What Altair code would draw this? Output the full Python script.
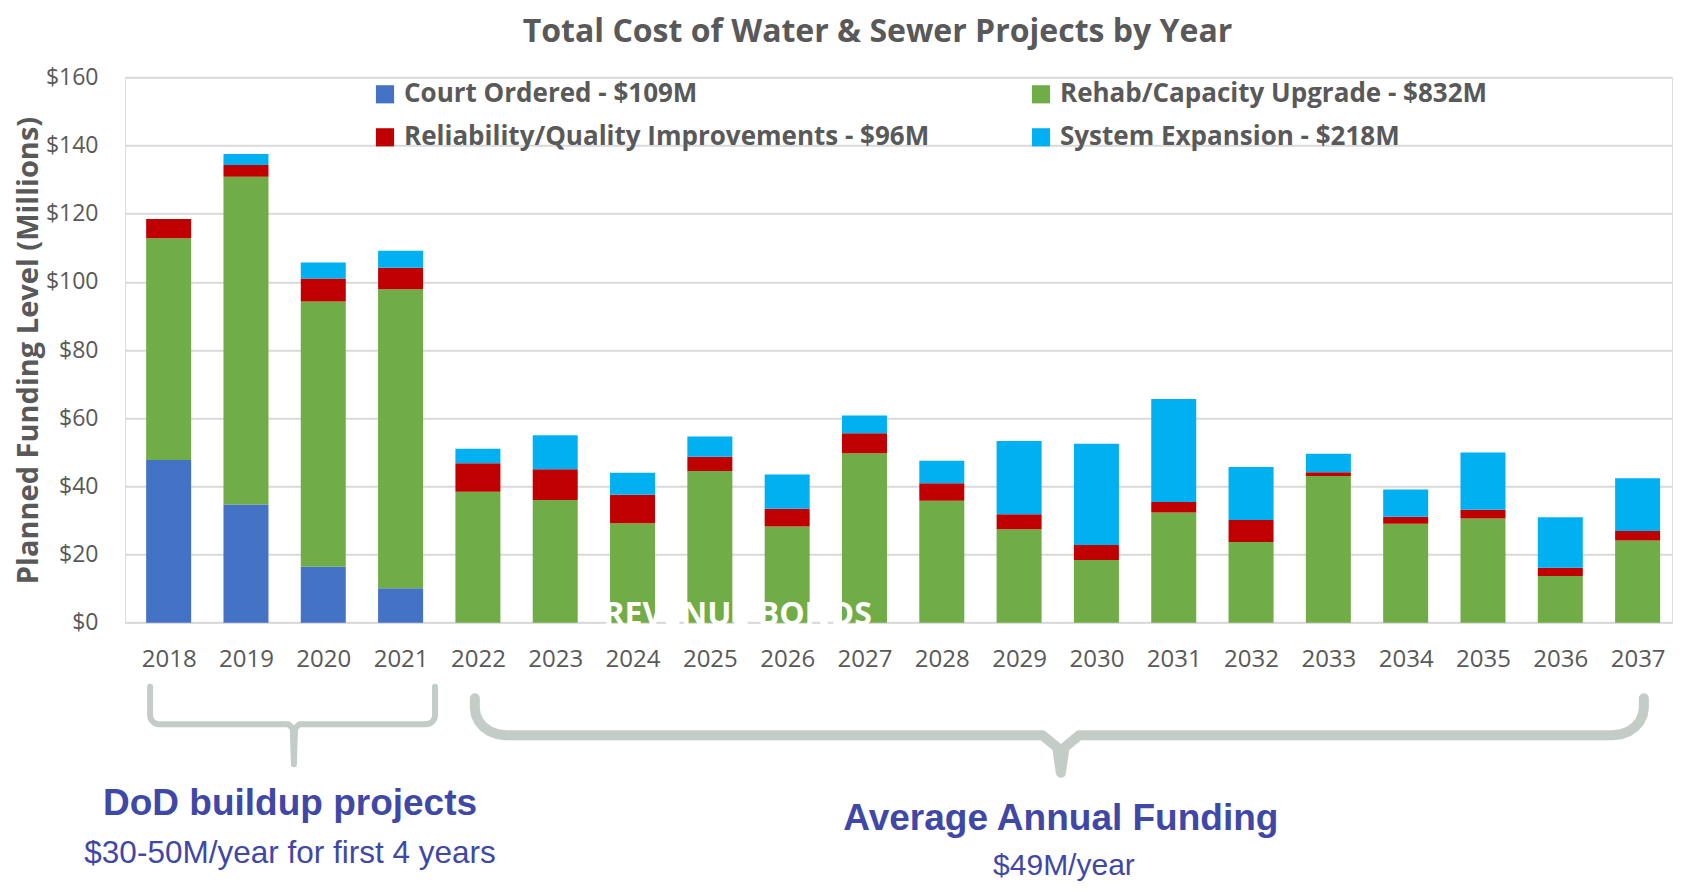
import altair as alt
import pandas as pd
import numpy as np

# ---------------- data ----------------
years = list(range(2018, 2038))
court = [47.7, 34.7, 16.4, 10.1] + [0] * 16
rehab = [65.1, 96.1, 77.8, 87.7, 38.4, 36.0, 29.2, 44.5, 28.2, 49.7,
         35.8, 27.4, 18.4, 32.3, 23.7, 43.0, 29.0, 30.6, 13.7, 24.1]
reliab = [5.6, 3.5, 6.8, 6.3, 8.4, 9.0, 8.3, 4.2, 5.2, 5.9,
          5.1, 4.4, 4.4, 3.1, 6.4, 1.1, 2.1, 2.5, 2.4, 2.8]
system = [0.0, 3.2, 4.7, 5.0, 4.2, 10.0, 6.5, 5.9, 10.1, 5.2,
          6.6, 21.5, 29.7, 30.2, 15.6, 5.5, 8.0, 16.8, 14.8, 15.5]

# stacking order (bottom to top)
categories = ["Court Ordered - $109M", "Rehab/Capacity Upgrade - $832M",
              "Reliability/Quality Improvements - $96M", "System Expansion - $218M"]
series = [court, rehab, reliab, system]
# legend order (fills column by column)
legend_order = ["Court Ordered - $109M", "Reliability/Quality Improvements - $96M",
                "Rehab/Capacity Upgrade - $832M", "System Expansion - $218M"]
legend_colors = ["#4472C4", "#C00000", "#70AD47", "#00B0F0"]

rows = []
for ci, (cat, vals) in enumerate(zip(categories, series)):
    for yr, v in zip(years, vals):
        rows.append({"year": yr, "category": cat, "value": v, "order": ci})
df = pd.DataFrame(rows)

# annotation texts (anchored in year / $M units)
ann_text = ["DoD buildup projects", "$30-50M/year for first 4 years",
            "Average Annual Funding", "$49M/year"]
ann_x = [2019.57, 2019.57, 2029.54, 2029.58]
ann_y = [-53.2, -67.9, -57.6, -71.4]
ann_size = [37, 31.5, 37, 30]
ann_weight = ["bold", "normal", "bold", "normal"]

# brackets: start year, end year, middle year, top, bar, tip ($M units)
br_start = [2017.76, 2021.96]
br_end = [2021.445, 2037.08]
br_mid = [2019.62, 2029.54]
br_top = [-18.8, -22.2]
br_bar = [-29.8, -33.0]
br_tip = [-41.5, -44.0]
br_rx = [0.12, 0.40]
br_ry = [2.6, 8.0]
br_width = [6, 10]

wm_text = ["REVENUE BONDS"]
wm_x = [2025.36]
wm_y = [2.2]

# ---------------- scales / axes ----------------
XDOM = [2017.5, 2037.38]
YDOM = [0, 160]
xs = alt.Scale(domain=XDOM, nice=False, zero=False)
ys = alt.Scale(domain=YDOM, nice=False, zero=False)

FONT = "Open Sans"
GRAY = "#595959"

x_axis = alt.Axis(values=years, format="d", title=None, grid=False,
                  domain=False, ticks=False, labelPadding=25,
                  labelFontSize=24, labelColor=GRAY, labelFont=FONT,
                  labelFlush=False)
y_axis = alt.Axis(values=list(range(0, 161, 20)), format="$.0f",
                  title="Planned Funding Level (Millions)",
                  titleFontSize=29, titleFont=FONT, titleColor=GRAY,
                  titleFontWeight="bold", titleX=-97, titleBaseline="middle",
                  labelFontSize=23, labelFont=FONT, labelColor=GRAY,
                  labelPadding=27, ticks=False, domain=False,
                  gridColor="#d9d9d9", gridWidth=2)

# bracket polylines (shape geometry)
brow = []
for b in range(2):
    x0, x1, xm = br_start[b], br_end[b], br_mid[b]
    t, bar, tip = br_top[b], br_bar[b], br_tip[b]
    rx, ry = br_rx[b], br_ry[b]
    pts = [(x0, t)]
    ang = np.linspace(0, np.pi / 2, 7)
    pts += [(x0 + rx - rx * np.cos(a), bar + ry - ry * np.sin(a)) for a in ang]
    pts += [(xm - rx * 0.6, bar)]
    pts += [(xm - rx * 0.12, bar - ry * 0.45), (xm, tip), (xm + rx * 0.12, bar - ry * 0.45)]
    pts += [(xm + rx * 0.6, bar)]
    ang2 = np.linspace(np.pi / 2, 0, 7)
    pts += [(x1 - rx + rx * np.cos(a), bar + ry - ry * np.sin(a)) for a in ang2]
    pts += [(x1, t)]
    for i, (px, py) in enumerate(pts):
        brow.append({"bx": px, "by": py, "i": i, "b": b})
bdf = pd.DataFrame(brow)

bars = alt.Chart(df).mark_bar(width=45).encode(
    x=alt.X("year:Q", scale=xs, axis=x_axis),
    y=alt.Y("value:Q", stack="zero", scale=ys, axis=y_axis),
    color=alt.Color("category:N",
                    scale=alt.Scale(domain=legend_order, range=legend_colors),
                    legend=alt.Legend(title=None, orient="none", legendX=247, legendY=4,
                                      columns=2, columnPadding=98, rowPadding=17,
                                      symbolType="square", symbolSize=330,
                                      symbolStrokeWidth=0, labelOffset=6,
                                      labelFontSize=26, labelFont=FONT,
                                      labelFontWeight="bold", labelColor=GRAY,
                                      labelLimit=900)),
    order=alt.Order("order:Q", sort="ascending"),
)

bracket_layers = []
for b in range(2):
    bracket_layers.append(
        alt.Chart(bdf[bdf.b == b]).mark_line(
            color="#c3ccc7", strokeWidth=br_width[b], strokeCap="round",
            strokeJoin="round", clip=False
        ).encode(
            x=alt.X("bx:Q", scale=xs, axis=x_axis),
            y=alt.Y("by:Q", scale=ys, axis=y_axis),
            order="i:Q",
        )
    )

adf = pd.DataFrame({"t": ann_text, "x": ann_x, "y": ann_y})
text_layers = []
for i in range(len(ann_text)):
    text_layers.append(
        alt.Chart(adf.iloc[[i]]).mark_text(
            font="Liberation Sans", fontSize=ann_size[i], fontWeight=ann_weight[i],
            color="#3f48a6", align="center", baseline="middle", clip=False
        ).encode(
            x=alt.X("x:Q", scale=xs, axis=x_axis),
            y=alt.Y("y:Q", scale=ys, axis=y_axis),
            text="t:N",
        )
    )

wm = alt.Chart(pd.DataFrame({"t": wm_text, "x": wm_x, "y": wm_y})).mark_text(
    font=FONT, fontSize=32, fontWeight="bold", color="white",
    align="center", baseline="middle"
).encode(
    x=alt.X("x:Q", scale=xs, axis=x_axis),
    y=alt.Y("y:Q", scale=ys, axis=y_axis),
    text="t:N",
)

chart = alt.layer(bars, *bracket_layers, *text_layers, wm).properties(
    width=1547, height=545.4,
    title=alt.TitleParams("Total Cost of Water & Sewer Projects by Year",
                          font=FONT, fontSize=32, fontWeight="bold", color=GRAY,
                          anchor="middle", dx=-21, offset=17),
    autosize=alt.AutoSizeParams(type="none"),
    padding={"left": 117, "top": 69.3, "right": 2, "bottom": 259.3},
).configure_view(strokeWidth=0).configure(background="white")

chart.save("out.html", embed_options={"renderer": "svg", "actions": False})
